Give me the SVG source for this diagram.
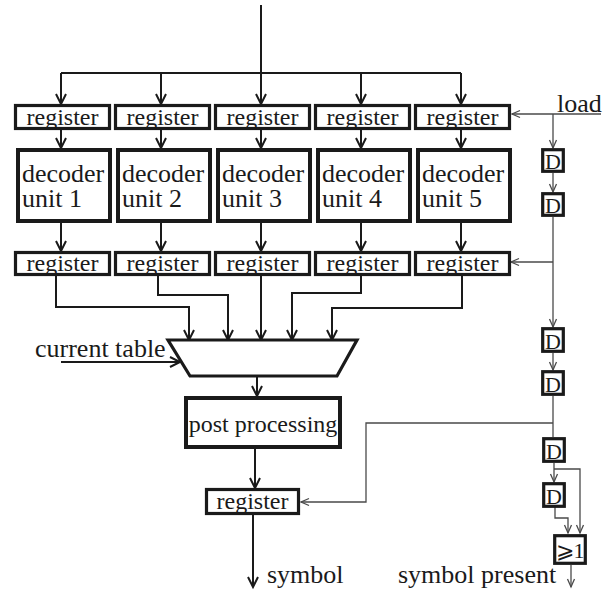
<svg xmlns="http://www.w3.org/2000/svg" width="610" height="590" viewBox="0 0 610 590">
  <style>
    text { font-family: "Liberation Serif", "DejaVu Serif", serif; fill: #1a1a1a; }
    .reg { font-size: 24px; text-anchor: middle; }
    .dec { font-size: 26px; }
    .lbl { font-size: 26px; }
    .dd { font-size: 22px; text-anchor: middle; }
    .box { fill: #fff; stroke: #1a1a1a; stroke-width: 3.2; }
    .bbox { fill: #fff; stroke: #1a1a1a; stroke-width: 4; }
    .data { fill: none; stroke: #1a1a1a; stroke-width: 2; }
    .ctl { fill: none; stroke: #4a4a4a; stroke-width: 1.3; }
    .da { marker-end: url(#ah); }
    .ca { marker-end: url(#ahs); }
  </style>
  <defs>
    <marker id="ah" viewBox="-12 -7 14 14" refX="0" refY="0" markerWidth="14" markerHeight="14" markerUnits="userSpaceOnUse" orient="auto" overflow="visible">
      <path d="M-10,-5 L0,0 L-10,5" fill="none" stroke="#1a1a1a" stroke-width="2"/>
    </marker>
    <marker id="ahs" viewBox="-10 -5 12 10" refX="0" refY="0" markerWidth="12" markerHeight="10" markerUnits="userSpaceOnUse" orient="auto" overflow="visible">
      <path d="M-8,-3.5 L0,0 L-8,3.5" fill="none" stroke="#4a4a4a" stroke-width="1.3"/>
    </marker>
  </defs>

  <!-- connectors -->
  <g id="connectors">
    <!-- input bus -->
    <path class="data" d="M261,5 V73 M61,73 H461"/>
    <path class="data da" d="M61,73 V104"/>
    <path class="data da" d="M161,73 V104"/>
    <path class="data da" d="M261,73 V104"/>
    <path class="data da" d="M361,73 V104"/>
    <path class="data da" d="M461,73 V104"/>
    <!-- register to decoder -->
    <path class="data da" d="M61,129 V148"/>
    <path class="data da" d="M161,129 V148"/>
    <path class="data da" d="M261,129 V148"/>
    <path class="data da" d="M361,129 V148"/>
    <path class="data da" d="M461,129 V148"/>
    <!-- decoder to register -->
    <path class="data da" d="M61,223 V251"/>
    <path class="data da" d="M161,223 V251"/>
    <path class="data da" d="M261,223 V251"/>
    <path class="data da" d="M361,223 V251"/>
    <path class="data da" d="M461,223 V251"/>
    <!-- registers to multiplexer -->
    <path class="data da" d="M56,276 V307 H189 V340"/>
    <path class="data da" d="M158,276 V295 H228 V340"/>
    <path class="data da" d="M261,276 V340"/>
    <path class="data da" d="M361,276 V293 H292 V340"/>
    <path class="data da" d="M462,276 V308 H332 V340"/>
    <!-- table select -->
    <path class="data da" d="M61,362 H180"/>
    <!-- multiplexer to post processing to output register -->
    <path class="data da" d="M257,376 V396"/>
    <path class="data da" d="M255,449 V488"/>
    <path class="data da" d="M253,515 V587"/>
    <!-- load / delay chain -->
    <path class="ctl ca" d="M601,114 H512"/>
    <path class="ctl ca" d="M553,114 V148"/>
    <path class="ctl ca" d="M553,173 V192"/>
    <path class="ctl ca" d="M553,217 V327"/>
    <path class="ctl ca" d="M553,262 H511"/>
    <path class="ctl ca" d="M553,353 V370"/>
    <path class="ctl" d="M553,396 V437"/>
    <path class="ctl ca" d="M553,423 H366 V502 H301"/>
    <path class="ctl ca" d="M554,463 V482"/>
    <path class="ctl ca" d="M554,469 H580 V533"/>
    <path class="ctl ca" d="M555,507 V518 H568 V533"/>
    <path class="ctl ca" d="M571,565 V587"/>
  </g>

  <!-- input registers -->
  <g id="reg-in-1"><rect class="box" x="15.5" y="105.5" width="94" height="23"/><text class="reg" x="62.5" y="125">register</text></g>
  <g id="reg-in-2"><rect class="box" x="115.5" y="105.5" width="94" height="23"/><text class="reg" x="162.5" y="125">register</text></g>
  <g id="reg-in-3"><rect class="box" x="215.5" y="105.5" width="94" height="23"/><text class="reg" x="262.5" y="125">register</text></g>
  <g id="reg-in-4"><rect class="box" x="315.5" y="105.5" width="94" height="23"/><text class="reg" x="362.5" y="125">register</text></g>
  <g id="reg-in-5"><rect class="box" x="415.5" y="105.5" width="94" height="23"/><text class="reg" x="462.5" y="125">register</text></g>

  <!-- decoder units -->
  <g id="decoder-1"><rect class="bbox" x="18" y="150" width="92" height="71"/><text class="dec" x="22" y="182">decoder</text><text class="dec" x="22" y="207">unit 1</text></g>
  <g id="decoder-2"><rect class="bbox" x="118" y="150" width="92" height="71"/><text class="dec" x="122" y="182">decoder</text><text class="dec" x="122" y="207">unit 2</text></g>
  <g id="decoder-3"><rect class="bbox" x="218" y="150" width="92" height="71"/><text class="dec" x="222" y="182">decoder</text><text class="dec" x="222" y="207">unit 3</text></g>
  <g id="decoder-4"><rect class="bbox" x="318" y="150" width="92" height="71"/><text class="dec" x="322" y="182">decoder</text><text class="dec" x="322" y="207">unit 4</text></g>
  <g id="decoder-5"><rect class="bbox" x="418" y="150" width="92" height="71"/><text class="dec" x="422" y="182">decoder</text><text class="dec" x="422" y="207">unit 5</text></g>

  <!-- output registers of the decoder units -->
  <g id="reg-out-1"><rect class="box" x="15.5" y="252.5" width="94" height="22"/><text class="reg" x="62.5" y="271">register</text></g>
  <g id="reg-out-2"><rect class="box" x="115.5" y="252.5" width="94" height="22"/><text class="reg" x="162.5" y="271">register</text></g>
  <g id="reg-out-3"><rect class="box" x="215.5" y="252.5" width="94" height="22"/><text class="reg" x="262.5" y="271">register</text></g>
  <g id="reg-out-4"><rect class="box" x="315.5" y="252.5" width="94" height="22"/><text class="reg" x="362.5" y="271">register</text></g>
  <g id="reg-out-5"><rect class="box" x="415.5" y="252.5" width="94" height="22"/><text class="reg" x="462.5" y="271">register</text></g>

  <!-- multiplexer -->
  <g id="mux"><polygon class="box" points="168,340 357,340 337,376 190,376" stroke-linejoin="miter"/></g>
  <g id="current-table"><text class="lbl" x="35" y="357">current table</text></g>

  <!-- post processing and final register -->
  <g id="post-processing"><rect class="bbox" x="186" y="398" width="154" height="49"/><text class="reg" x="263" y="432">post processing</text></g>
  <g id="reg-final"><rect class="box" x="206.5" y="489.5" width="92" height="24"/><text class="reg" x="252.5" y="509">register</text></g>
  <g id="symbol"><text class="lbl" x="267" y="583">symbol</text></g>

  <!-- load and delay chain -->
  <g id="load"><text class="lbl" x="557" y="112">load</text></g>
  <g id="delay-1"><rect class="box" x="542.7" y="149.7" width="20.6" height="21.6"/><text class="dd" x="553" y="169">D</text></g>
  <g id="delay-2"><rect class="box" x="542.7" y="193.7" width="20.6" height="21.6"/><text class="dd" x="553" y="213">D</text></g>
  <g id="delay-3"><rect class="box" x="542.7" y="328.7" width="20.6" height="22.6"/><text class="dd" x="553" y="348.5">D</text></g>
  <g id="delay-4"><rect class="box" x="542.7" y="371.7" width="20.6" height="22.6"/><text class="dd" x="553" y="391.5">D</text></g>
  <g id="delay-5"><rect class="box" x="543.7" y="438.7" width="20.6" height="22.6"/><text class="dd" x="554" y="458.5">D</text></g>
  <g id="delay-6"><rect class="box" x="543.7" y="483.7" width="20.6" height="22.6"/><text class="dd" x="554" y="503.5">D</text></g>
  <g id="or-gate"><rect class="box" x="554.7" y="535.7" width="30.6" height="27.6"/><text class="dd" x="570" y="558">⩾1</text></g>
  <g id="symbol-present"><text class="lbl" x="398" y="583">symbol present</text></g>
</svg>
